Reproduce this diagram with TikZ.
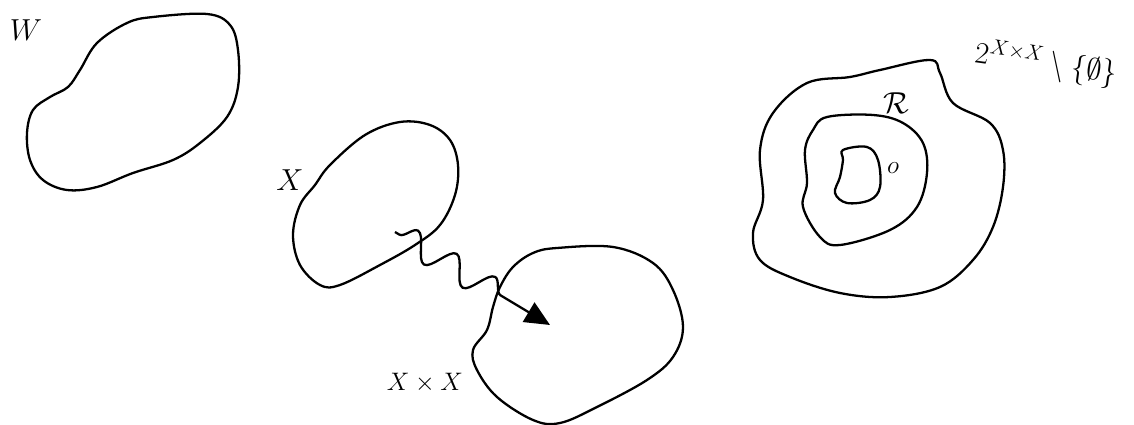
\documentclass[tikz,border=0pt]{standalone}
\usepackage{amsmath}
\usepackage{amssymb}
\usepackage{tikz}
\usetikzlibrary{positioning}
\usetikzlibrary{arrows.meta}
\usetikzlibrary{decorations.pathmorphing}

\begin{document}
\begin{tikzpicture}[x=0.02cm, y=-0.02cm,
		blob/.style={line width=1.3pt, line join=round},
		lbl/.style={inner sep=1pt, font=\LARGE},
		wavy/.style={line width=1.3pt, decorate,
				decoration={snake, amplitude=2.6mm, segment length=9mm, pre length=1mm, post length=8mm},
				-{Triangle[length=5mm, width=4.5mm]}}]
		\useasboundingbox (0,0) rectangle (1134,425);

		% The set W
		\draw[blob] plot[smooth cycle, tension=0.6] coordinates {
				(97,43) (127,23) (153,17) (207,14) (230,25) (238,50) (238,87) (227,117)
				(200,143) (173,160) (133,173) (97,187) (67,190) (43,180) (30,160)
				(27,133) (33,110) (50,97) (68,87) (80,70)};
		\node[lbl] (lblW) at (26,30) {$W$};

		% The set X
		\draw[blob] plot[smooth cycle, tension=0.6] coordinates {
				(330,165) (365,135) (400,122) (430,125) (450,140) (458,165) (455,195)
				(440,225) (415,245) (380,265) (340,285) (320,285) (300,265) (293,235)
				(300,205) (315,185)};
		\node[lbl] (lblX) at (290,180) {$X$};

		% The product X x X
		\draw[blob] plot[smooth cycle, tension=0.6] coordinates {
				(557,248) (613,247) (653,263) (673,290) (683,327) (673,357) (647,380)
				(597,407) (560,423) (533,420) (497,397) (477,370) (473,350) (487,330)
				(493,307) (500,287) (513,267) (533,253)};
		\node[lbl, font=\Large] (lblXX) at (425,383) {$X\times X$};

		% Wavy map from X into X x X
		\coordinate (xs) at (395,232);
		\coordinate (xe) at (550,325);
		\draw[wavy] (xs) -- (xe);

		% The power set and the relations in it
		\draw[blob] plot[smooth cycle, tension=0.6] coordinates {
				(880,70) (930,60) (940,73) (953,103) (990,123) (1003,150) (1003,187)
				(993,227) (973,260) (940,287) (890,297) (840,293) (790,277) (760,260)
				(753,233) (763,200) (760,150) (773,113) (807,83) (850,77)};
		\draw[blob] plot[smooth cycle, tension=0.6] coordinates {
				(827,117) (873,115) (903,123) (923,143) (927,173) (917,207) (890,230)
				(840,245) (820,237) (803,207) (807,183) (805,150) (813,130)};
		\draw[blob] plot[smooth cycle, tension=0.6] coordinates {
				(843,150) (867,147) (878,160) (880,187) (870,200) (847,203) (835,193)
				(840,177) (843,160)};
		\node[lbl] (lblR) at (896,103) {$\mathcal{R}$};
		\node[lbl, font=\Large] (lblO) at (893,168) {$o$};
		\node[lbl, rotate=-8] (lblP) at (1046,64) {$2^{X\times X}\setminus\{\emptyset\}$};
	\end{tikzpicture}
\end{document}
